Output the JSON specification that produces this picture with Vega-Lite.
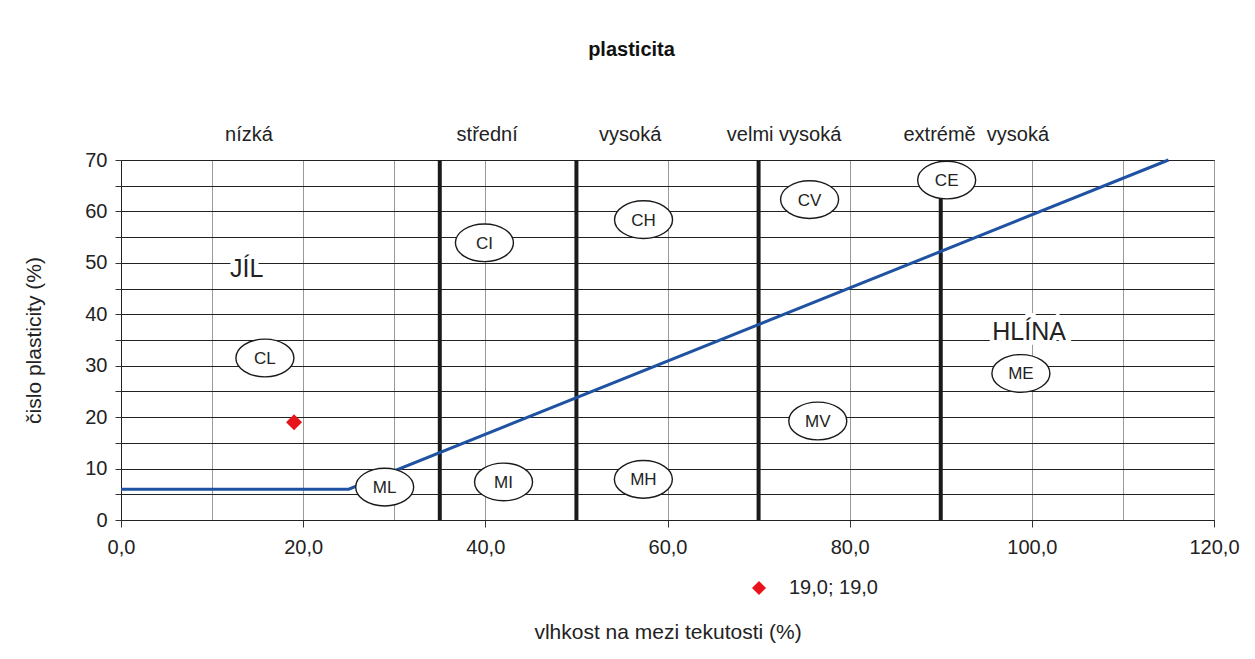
{
  "$schema": "https://vega.github.io/schema/vega-lite/v6.json",
  "autosize": {"type": "none"},
  "padding": {"left": 121, "top": 160, "right": 41, "bottom": 139},
  "width": 1093,
  "height": 360,
  "background": "white",
  "config": {
    "font": "Liberation Sans",
    "view": {"stroke": "#333", "strokeWidth": 1}
  },
  "title": {"text": "plasticita", "fontSize": 20, "fontWeight": "bold", "color": "#111", "offset": 65, "dx": -36, "anchor": "middle"},
  "datasets": {
    "bounds": [{"x": 35, "y": 0, "y2": 70}, {"x": 50, "y": 0, "y2": 70}, {"x": 70, "y": 0, "y2": 70}, {"x": 90, "y": 0, "y2": 70}],
    "aline": [{"x": 0, "y": 6}, {"x": 25, "y": 6}, {"x": 115, "y": 70}],
    "zones": [
      {"x": 15.8, "y": 31.5, "t": "CL"},
      {"x": 28.95, "y": 6.4, "t": "ML"},
      {"x": 39.9, "y": 53.9, "t": "CI"},
      {"x": 42.0, "y": 7.4, "t": "MI"},
      {"x": 57.37, "y": 58.4, "t": "CH"},
      {"x": 57.35, "y": 7.9, "t": "MH"},
      {"x": 75.6, "y": 62.3, "t": "CV"},
      {"x": 76.5, "y": 19.25, "t": "MV"},
      {"x": 90.65, "y": 66.1, "t": "CE"},
      {"x": 98.8, "y": 28.5, "t": "ME"}
    ],
    "big": [{"x": 13.8, "y": 47.25, "t": "JÍL"}, {"x": 99.7, "y": 35.0, "t": "HLÍNA"}],
    "heads": [
      {"x": 14.05, "y": 73.6, "t": "nízká"},
      {"x": 40.2, "y": 73.6, "t": "střední"},
      {"x": 55.9, "y": 73.6, "t": "vysoká"},
      {"x": 72.8, "y": 73.6, "t": "velmi vysoká"},
      {"x": 93.9, "y": 73.6, "t": "extrémě\u00a0 vysoká"}
    ],
    "sample": [{"x": 19, "y": 19, "s": "19,0; 19,0"}]
  },
  "encoding": {
    "x": {"field": "x", "type": "quantitative", "scale": {"domain": [0, 120], "nice": false, "zero": false},
      "axis": {
        "title": "vlhkost na mezi tekutosti (%)",
        "values": [0, 10, 20, 30, 40, 50, 60, 70, 80, 90, 100, 110, 120],
        "labelExpr": "datum.value % 20 === 0 ? replace(format(datum.value, '.1f'), '.', ',') : ''",
        "tickOpacity": {"condition": {"test": "datum.value % 20 === 0", "value": 1}, "value": 0},
        "tickSize": 7, "tickColor": "#333", "domainColor": "#222",
        "grid": true, "gridColor": "#9a9a9a", "gridWidth": 1,
        "labelFontSize": 20, "labelPadding": 10, "labelColor": "#222", "labelFlush": false, "labelOverlap": false,
        "titleFontSize": 21, "titleFontWeight": "normal", "titleColor": "#222", "titleY": 112, "titleBaseline": "middle"
      }
    },
    "y": {"field": "y", "type": "quantitative", "scale": {"domain": [0, 70], "nice": false},
      "axis": {
        "title": "čislo plasticity (%)",
        "values": [0, 5, 10, 15, 20, 25, 30, 35, 40, 45, 50, 55, 60, 65, 70],
        "labelExpr": "datum.value % 10 === 0 ? format(datum.value, 'd') : ''",
        "tickSize": 6, "tickColor": "#333", "domainColor": "#222",
        "grid": true, "gridColor": "#222", "gridWidth": 1,
        "labelFontSize": 20, "labelPadding": 8, "labelColor": "#222", "labelFlush": false, "labelOverlap": false,
        "titleFontSize": 21, "titleFontWeight": "normal", "titleColor": "#222",
        "titleX": -87, "titleY": 180, "titleAngle": -90, "titleBaseline": "middle"
      }
    }
  },
  "layer": [
    {
      "data": {"name": "bounds"},
      "mark": {"type": "rule", "color": "#1a1a1a", "strokeWidth": 4},
      "encoding": {
        "y2": {"field": "y2"}
      }
    },
    {
      "data": {"name": "aline"},
      "mark": {"type": "line", "color": "#1f52a3", "strokeWidth": 3}
    },
    {
      "data": {"name": "zones"},
      "mark": {"type": "point", "shape": "M -1 0 C -1 -0.359 -0.5523 -0.65 0 -0.65 C 0.5523 -0.65 1 -0.359 1 0 C 1 0.359 0.5523 0.65 0 0.65 C -0.5523 0.65 -1 0.359 -1 0 Z", "size": 3364, "filled": true, "fill": "white", "stroke": "#1a1a1a", "strokeWidth": 1.4, "opacity": 1}
    },
    {
      "data": {"name": "zones"},
      "mark": {"type": "text", "fontSize": 17, "color": "#222", "align": "center", "baseline": "middle", "dy": 1},
      "encoding": {"text": {"field": "t"}}
    },
    {
      "data": {"name": "big"},
      "mark": {"type": "text", "fontSize": 25, "fill": "white", "stroke": "white", "strokeWidth": 9, "align": "center", "baseline": "alphabetic"},
      "encoding": {"text": {"field": "t"}}
    },
    {
      "data": {"name": "big"},
      "mark": {"type": "text", "fontSize": 25, "color": "#222", "align": "center", "baseline": "alphabetic"},
      "encoding": {"text": {"field": "t"}}
    },
    {
      "data": {"name": "heads"},
      "mark": {"type": "text", "fontSize": 20, "color": "#222", "align": "center", "baseline": "alphabetic", "clip": false},
      "encoding": {"text": {"field": "t"}}
    },
    {
      "data": {"name": "sample"},
      "mark": {"type": "point", "shape": "diamond", "filled": true, "size": 256, "opacity": 1},
      "encoding": {
        "color": {"field": "s", "type": "nominal", "scale": {"range": ["#e8141c"]},
          "legend": {"orient": "none", "legendX": 628, "legendY": 418, "title": null, "labelFontSize": 20, "labelColor": "#222", "symbolSize": 196, "symbolType": "diamond", "labelOffset": 20, "padding": 0, "symbolStrokeWidth": 0}
        }
      }
    }
  ]
}
